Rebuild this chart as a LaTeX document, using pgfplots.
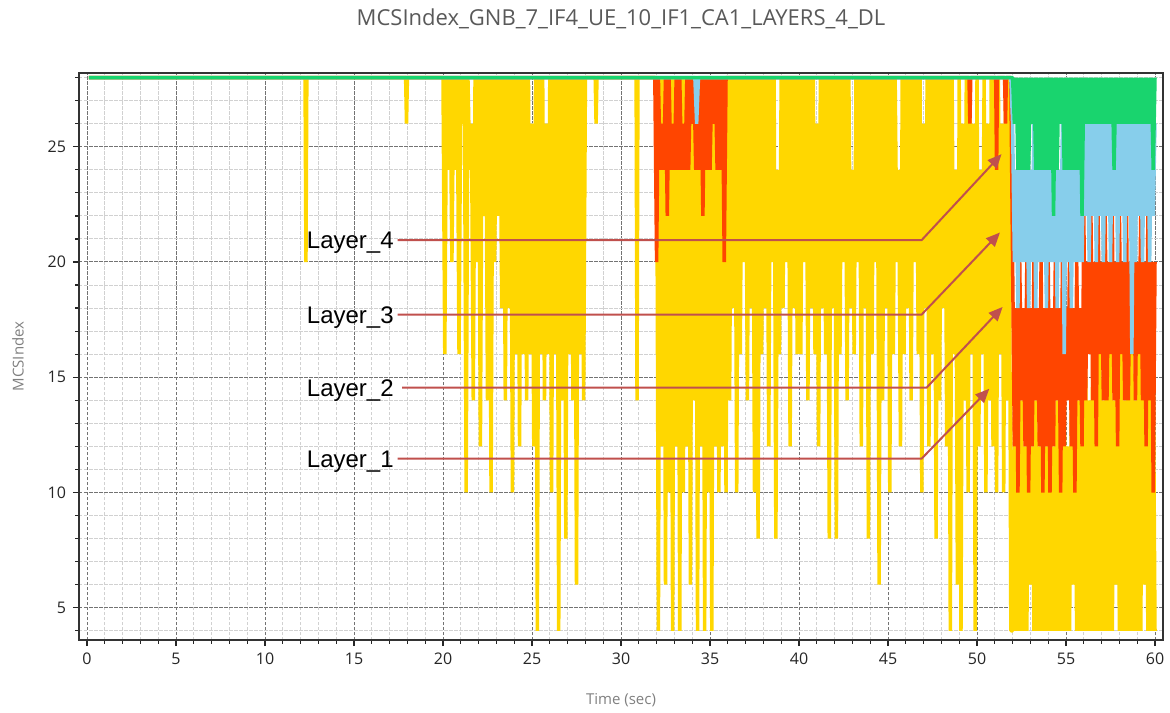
\documentclass[border=0pt]{standalone}
\usepackage{pgfplots}
\pgfplotsset{compat=1.18}
\usepackage{fontspec}
\setmainfont{Open Sans}
\newfontfamily\arialfont{Liberation Sans}
\usetikzlibrary{arrows.meta}

\definecolor{layerone}{HTML}{FFD700}
\definecolor{layertwo}{HTML}{FF4500}
\definecolor{layerthree}{HTML}{87CEEB}
\definecolor{layerfour}{HTML}{19D46E}
\definecolor{annot}{HTML}{C0504D}
\definecolor{titlegray}{HTML}{595959}
\definecolor{labelgray}{HTML}{808080}

\begin{document}
\begin{tikzpicture}
\begin{axis}[
    scale only axis,
    width=542pt, height=283.5pt,
    xmin=-0.45, xmax=60.45,
    ymin=3.6, ymax=28.2,
    xtick={0,5,...,60},
    ytick={5,10,...,25},
    minor xtick={0,...,60},
    minor ytick={4,...,28},
    grid=both,
    major grid style={dash pattern=on 1.75pt off 0.75pt, color=black!55, line width=0.5pt},
    minor grid style={dash pattern=on 1.75pt off 0.75pt, color=black!18, line width=0.5pt},
    tick pos=left,
    tick align=outside,
    major tick length=3pt,
    minor tick length=1.8pt,
    every tick/.style={black!85, line width=0.6pt},
    axis line style={black!80, line width=0.8pt},
    /pgf/number format/assume math mode=true,
    ticklabel style={font=\fontsize{8}{9}\selectfont, color=black!85},
    title={MCSIndex\_GNB\_7\_IF4\_UE\_10\_IF1\_CA1\_LAYERS\_4\_DL},
    title style={at={(0.5,1)}, anchor=base, yshift=17.5pt, font=\fontsize{11}{13}\selectfont, color=titlegray},
    xlabel={Time (sec)},
    ylabel={MCSIndex},
    label style={font=\fontsize{7.5}{9}\selectfont, color=labelgray},
    xlabel style={at={(0.5,0)}, anchor=center, yshift=-30pt},
    ylabel style={at={(0,0.5)}, anchor=center, yshift=30.5pt},
    every axis plot/.append style={line width=1.75pt, line join=bevel, no marks},
]

% Layer_1
\addplot[color=layerone] table[row sep=\\, header=false] {
0.1 28\\12.25 28\\12.3 20\\12.35 28\\17.9 28\\17.95 26\\18.0 28\\
20.0 28\\20.1 16\\20.2 28\\20.3 24\\20.4 28\\20.5 20\\20.6 28\\20.7 24\\20.8 28\\20.9 16\\
21.0 28\\21.1 26\\21.2 28\\21.3 10\\21.4 28\\21.5 24\\21.6 26\\21.7 14\\21.8 28\\21.9 20\\
22.0 28\\22.1 12\\22.2 28\\22.3 22\\22.4 28\\22.5 14\\22.6 28\\22.7 10\\22.8 28\\22.9 20\\
23.0 28\\23.1 22\\23.2 28\\23.3 18\\23.4 28\\23.5 14\\23.6 28\\23.7 18\\23.8 28\\23.9 10\\
24.0 28\\24.1 16\\24.2 28\\24.3 12\\24.4 28\\24.5 16\\24.6 28\\24.7 14\\24.8 28\\24.9 16\\
25.0 26\\25.1 12\\25.2 28\\25.3 4\\25.4 28\\25.5 16\\25.6 28\\25.7 14\\25.8 26\\25.9 16\\
26.0 28\\26.1 10\\26.2 28\\26.3 16\\26.4 28\\26.5 4\\26.6 28\\26.7 14\\26.8 28\\26.9 8\\
27.0 28\\27.1 16\\27.2 28\\27.3 14\\27.4 28\\27.5 6\\27.6 28\\27.7 16\\27.8 28\\27.9 14\\
28.0 28\\28.55 28\\28.6 26\\28.65 28\\30.85 28\\30.9 14\\30.95 28\\31.9 28\\
32.0 28\\32.1 4\\32.2 28\\32.3 12\\32.4 28\\32.5 6\\32.6 28\\32.7 10\\32.8 28\\32.9 4\\
33.0 28\\33.1 12\\33.2 28\\33.3 4\\33.4 28\\33.5 10\\33.6 28\\33.7 12\\33.8 28\\33.9 6\\
34.0 28\\34.1 14\\34.2 28\\34.3 4\\34.4 28\\34.5 12\\34.6 28\\34.7 4\\34.8 28\\34.9 10\\
35.0 28\\35.1 4\\35.2 28\\35.3 12\\35.4 28\\35.5 10\\35.6 28\\35.7 12\\35.8 28\\35.9 10\\
36.0 28\\36.1 14\\36.2 28\\36.3 18\\36.4 28\\36.5 10\\36.6 28\\36.7 16\\36.8 28\\36.9 20\\
37.0 28\\37.1 14\\37.2 28\\37.3 18\\37.4 28\\37.5 10\\37.6 28\\37.7 8\\37.8 28\\37.9 16\\
38.0 28\\38.1 18\\38.2 28\\38.3 12\\38.4 28\\38.5 20\\38.6 28\\38.7 8\\38.8 24\\38.9 16\\
39.0 28\\39.1 18\\39.2 28\\39.3 20\\39.4 28\\39.5 12\\39.6 28\\39.7 18\\39.8 28\\39.9 16\\
40.0 28\\40.1 16\\40.2 28\\40.3 20\\40.4 28\\40.5 14\\40.6 28\\40.7 18\\40.8 28\\40.9 16\\
41.0 26\\41.1 12\\41.2 28\\41.3 18\\41.4 28\\41.5 16\\41.6 28\\41.7 8\\41.8 28\\41.9 18\\
42.0 28\\42.1 8\\42.2 28\\42.3 16\\42.4 28\\42.5 20\\42.6 28\\42.7 14\\42.8 28\\42.9 18\\
43.0 24\\43.1 16\\43.2 28\\43.3 20\\43.4 28\\43.5 12\\43.6 28\\43.7 18\\43.8 28\\43.9 8\\
44.0 28\\44.1 16\\44.2 28\\44.3 20\\44.4 28\\44.5 6\\44.6 28\\44.7 14\\44.8 28\\44.9 18\\
45.0 28\\45.1 10\\45.2 28\\45.3 16\\45.4 28\\45.5 20\\45.6 24\\45.7 12\\45.8 28\\45.9 16\\
46.0 28\\46.1 18\\46.2 28\\46.3 14\\46.4 28\\46.5 20\\46.6 28\\46.7 16\\46.8 28\\46.9 10\\
47.0 26\\47.1 18\\47.2 28\\47.3 12\\47.4 28\\47.5 16\\47.6 28\\47.7 8\\47.8 28\\47.9 14\\
48.0 28\\48.1 18\\48.2 28\\48.3 12\\48.4 28\\48.5 4\\48.6 28\\48.7 16\\48.8 24\\48.9 6\\
49.0 28\\49.1 4\\49.2 26\\49.3 14\\49.4 28\\49.5 10\\49.6 28\\49.7 16\\49.8 26\\49.9 4\\
50.0 28\\50.1 12\\50.2 24\\50.3 16\\50.4 28\\50.5 10\\50.6 26\\50.7 14\\50.8 28\\50.9 12\\
51.0 28\\51.1 10\\51.2 28\\51.3 16\\51.4 26\\51.5 10\\51.6 28\\51.7 14\\51.8 28\\51.9 4\\
52.0 4\\52.1 14\\52.2 4\\52.3 12\\52.4 4\\52.5 14\\52.6 4\\52.7 12\\52.8 4\\52.9 14\\
53.0 6\\53.1 12\\53.2 4\\53.3 14\\53.4 4\\53.5 12\\53.6 4\\53.7 14\\53.8 4\\53.9 12\\
54.0 4\\54.1 14\\54.2 4\\54.3 12\\54.4 4\\54.5 14\\54.6 4\\54.7 12\\54.8 4\\54.9 14\\
55.0 4\\55.1 12\\55.2 4\\55.3 14\\55.4 6\\55.5 12\\55.6 4\\55.7 14\\55.8 4\\55.9 16\\
56.0 4\\56.1 16\\56.2 4\\56.3 14\\56.4 4\\56.5 16\\56.6 4\\56.7 18\\56.8 4\\56.9 16\\
57.0 4\\57.1 14\\57.2 4\\57.3 16\\57.4 4\\57.5 16\\57.6 4\\57.7 14\\57.8 6\\57.9 16\\
58.0 4\\58.1 16\\58.2 4\\58.3 14\\58.4 4\\58.5 16\\58.6 4\\58.7 16\\58.8 4\\58.9 14\\
59.0 4\\59.1 16\\59.2 4\\59.3 16\\59.4 6\\59.5 14\\59.6 4\\59.7 16\\59.8 4\\59.9 16\\60.0 4\\
};

% Layer_2
\addplot[color=layertwo] table[row sep=\\, header=false] {
0.1 28\\31.8 28\\31.9 28\\32.0 20\\32.1 28\\32.2 24\\32.3 26\\32.4 24\\32.5 28\\32.6 22\\
32.7 28\\32.8 24\\32.9 26\\33.0 24\\33.1 28\\33.2 24\\33.3 28\\33.4 24\\33.5 26\\33.6 24\\
33.7 28\\33.8 24\\33.9 28\\34.0 26\\34.1 28\\34.2 24\\34.3 28\\34.4 24\\34.5 28\\34.6 22\\
34.7 28\\34.8 24\\34.9 28\\35.0 24\\35.1 28\\35.2 26\\35.3 28\\35.4 24\\35.5 28\\35.6 24\\
35.7 28\\35.8 20\\35.9 28\\36.0 28\\49.55 28\\49.6 26\\49.65 28\\51.05 28\\51.1 24\\51.15 28\\
51.55 28\\51.6 26\\51.65 28\\51.9 28\\
52.0 20\\52.1 12\\52.2 18\\52.3 10\\52.4 20\\52.5 14\\52.6 18\\52.7 12\\52.8 20\\52.9 10\\
53.0 18\\53.1 12\\53.2 20\\53.3 14\\53.4 18\\53.5 12\\53.6 20\\53.7 10\\53.8 18\\53.9 12\\
54.0 20\\54.1 10\\54.2 18\\54.3 12\\54.4 20\\54.5 14\\54.6 18\\54.7 10\\54.8 20\\54.9 12\\
55.0 18\\55.1 14\\55.2 20\\55.3 12\\55.4 18\\55.5 10\\55.6 20\\55.7 14\\55.8 18\\55.9 12\\
56.0 22\\56.1 14\\56.2 20\\56.3 16\\56.4 22\\56.5 14\\56.6 20\\56.7 12\\56.8 22\\56.9 16\\
57.0 20\\57.1 14\\57.2 22\\57.3 14\\57.4 20\\57.5 16\\57.6 22\\57.7 14\\57.8 20\\57.9 12\\
58.0 22\\58.1 16\\58.2 20\\58.3 14\\58.4 22\\58.5 14\\58.6 20\\58.7 16\\58.8 22\\58.9 14\\
59.0 20\\59.1 16\\59.2 22\\59.3 14\\59.4 20\\59.5 12\\59.6 22\\59.7 14\\59.8 20\\59.9 10\\60.0 20\\
};

% Layer_3
\addplot[color=layerthree] table[row sep=\\, header=false] {
0.1 28\\34.15 28\\34.25 26\\34.35 28\\51.9 28\\
52.0 26\\52.1 20\\52.2 24\\52.3 18\\52.4 26\\52.5 20\\52.6 24\\52.7 20\\52.8 26\\52.9 18\\
53.0 24\\53.1 20\\53.2 26\\53.3 18\\53.4 24\\53.5 20\\53.6 26\\53.7 20\\53.8 24\\53.9 18\\
54.0 26\\54.1 20\\54.2 24\\54.3 20\\54.4 26\\54.5 18\\54.6 24\\54.7 20\\54.8 26\\54.9 16\\
55.0 24\\55.1 20\\55.2 26\\55.3 18\\55.4 24\\55.5 20\\55.6 26\\55.7 20\\55.8 24\\55.9 20\\
56.0 26\\56.1 22\\56.2 26\\56.3 20\\56.4 26\\56.5 22\\56.6 26\\56.7 20\\56.8 26\\56.9 22\\
57.0 26\\57.1 20\\57.2 26\\57.3 22\\57.4 26\\57.5 20\\57.6 26\\57.7 22\\57.8 26\\57.9 20\\
58.0 26\\58.1 22\\58.2 26\\58.3 20\\58.4 26\\58.5 22\\58.6 26\\58.7 16\\58.8 26\\58.9 20\\
59.0 26\\59.1 22\\59.2 26\\59.3 20\\59.4 26\\59.5 22\\59.6 26\\59.7 20\\59.8 26\\59.9 22\\60.0 26\\
};

% Layer_4
\addplot[color=layerfour] table[row sep=\\, header=false] {
0.1 28\\51.9 28\\
52.0 28\\52.1 26\\52.2 28\\52.3 24\\52.4 28\\52.5 24\\52.6 28\\52.7 24\\52.8 28\\52.9 24\\
53.0 28\\53.1 26\\53.2 28\\53.3 24\\53.4 28\\53.5 24\\53.6 28\\53.7 24\\53.8 28\\53.9 24\\
54.0 28\\54.1 24\\54.2 28\\54.3 22\\54.4 28\\54.5 24\\54.6 28\\54.7 26\\54.8 28\\54.9 24\\
55.0 28\\55.1 24\\55.2 28\\55.3 24\\55.4 28\\55.5 24\\55.6 28\\55.7 24\\55.8 28\\55.9 22\\
56.0 28\\56.1 26\\56.2 28\\56.3 26\\56.4 28\\56.5 26\\56.6 28\\56.7 26\\56.8 28\\56.9 26\\
57.0 28\\57.1 26\\57.2 28\\57.3 26\\57.4 28\\57.5 26\\57.6 28\\57.7 24\\57.8 28\\57.9 26\\
58.0 28\\58.1 26\\58.2 28\\58.3 26\\58.4 28\\58.5 26\\58.6 28\\58.7 26\\58.8 28\\58.9 26\\
59.0 28\\59.1 26\\59.2 28\\59.3 26\\59.4 28\\59.5 26\\59.6 28\\59.7 26\\59.8 28\\59.9 24\\60.0 28\\
};

% callouts
\tikzset{callout/.style={draw=annot, line width=1pt, -{Triangle[length=7pt, width=6pt]}}}
\draw[callout] (axis cs:17.45,20.95) -- (axis cs:46.89,20.95) -- (axis cs:51.38,24.68);
\draw[callout] (axis cs:17.45,17.72) -- (axis cs:46.89,17.72) -- (axis cs:51.29,21.28);
\draw[callout] (axis cs:17.70,14.55) -- (axis cs:47.17,14.55) -- (axis cs:51.44,18.05);
\draw[callout] (axis cs:17.45,11.47) -- (axis cs:46.89,11.47) -- (axis cs:50.69,14.50);
\tikzset{layerlbl/.style={anchor=base east, yshift=-4.3pt, inner sep=0pt, font=\arialfont\fontsize{12}{14}\selectfont}}
\node[layerlbl] at (axis cs:17.25,20.95) {Layer\_4};
\node[layerlbl] at (axis cs:17.25,17.72) {Layer\_3};
\node[layerlbl] at (axis cs:17.25,14.55) {Layer\_2};
\node[layerlbl] at (axis cs:17.25,11.47) {Layer\_1};
\end{axis}
\pgfresetboundingbox
\path[use as bounding box] ([shift={(-39.5pt,-36pt)}]current axis.south west) rectangle ([shift={(3.5pt,36.5pt)}]current axis.north east);
\end{tikzpicture}
\end{document}
